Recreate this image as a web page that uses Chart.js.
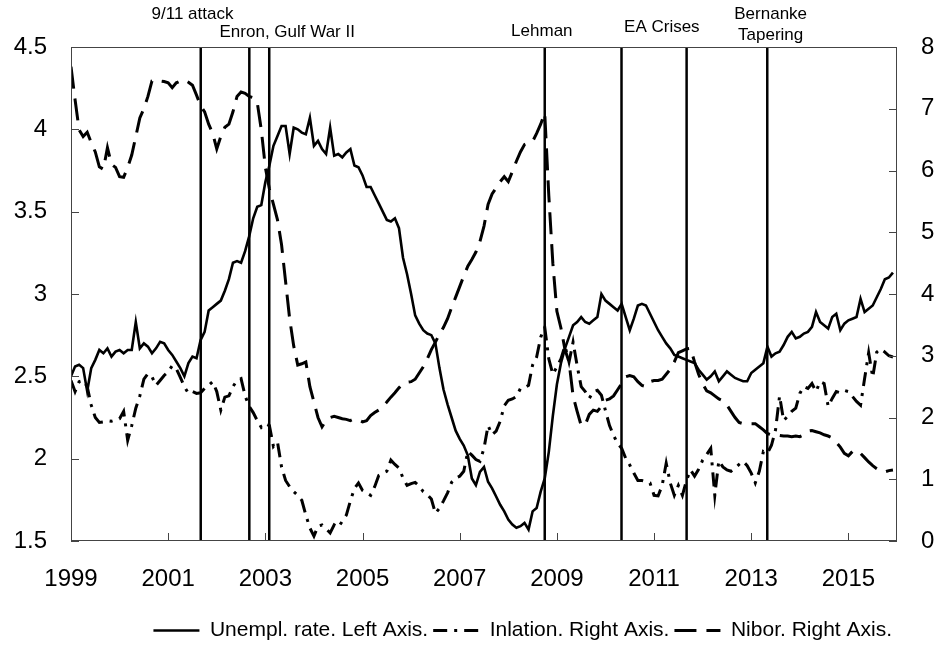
<!DOCTYPE html>
<html>
<head>
<meta charset="utf-8">
<script src="https://cdn.jsdelivr.net/npm/chart.js@4"></script>
<style>
  html, body { margin: 0; background: #fff; }
  #wrap { width: 941px; height: 651px; }
</style>
</head>
<body>
<div id="wrap"><canvas id="chart"></canvas></div>
<script>
// monthly series, Jan 1999 .. Dec 2015 (one row per year)
const startYear = 1999;
const xTickYears = [1999, 2001, 2003, 2005, 2007, 2009, 2011, 2013, 2015];

const unempRate = [
  2.50, 2.56, 2.57, 2.55, 2.41, 2.55, 2.60, 2.66, 2.64, 2.67, 2.62, 2.65,
  2.66, 2.64, 2.66, 2.66, 2.83, 2.67, 2.70, 2.68, 2.64, 2.67, 2.71, 2.70,
  2.66, 2.63, 2.59, 2.55, 2.50, 2.58, 2.62, 2.61, 2.72, 2.77, 2.90, 2.92,
  2.94, 2.96, 3.02, 3.09, 3.19, 3.20, 3.19, 3.26, 3.35, 3.46, 3.53, 3.54,
  3.68, 3.78, 3.90, 3.96, 4.02, 4.02, 3.85, 4.01, 4.00, 3.98, 3.97, 4.07,
  3.90, 3.93, 3.88, 3.85, 4.01, 3.84, 3.85, 3.83, 3.86, 3.88, 3.78, 3.77,
  3.72, 3.65, 3.65, 3.60, 3.55, 3.50, 3.45, 3.44, 3.46, 3.40, 3.22, 3.12,
  3.00, 2.87, 2.82, 2.78, 2.76, 2.75, 2.70, 2.55, 2.42, 2.33, 2.25, 2.17,
  2.12, 2.08, 2.02, 1.88, 1.84, 1.92, 1.95, 1.86, 1.82, 1.77, 1.72, 1.68,
  1.63, 1.60, 1.58, 1.59, 1.61, 1.57, 1.68, 1.70, 1.80, 1.88, 2.04, 2.26,
  2.45, 2.58, 2.67, 2.74, 2.81, 2.83, 2.86, 2.83, 2.82, 2.84, 2.86, 3.00,
  2.96, 2.94, 2.92, 2.90, 2.94, 2.86, 2.78, 2.85, 2.93, 2.94, 2.93, 2.88,
  2.83, 2.78, 2.74, 2.70, 2.67, 2.63, 2.62, 2.61, 2.60, 2.59, 2.58, 2.54,
  2.51, 2.48, 2.50, 2.53, 2.47, 2.50, 2.53, 2.51, 2.49, 2.48, 2.47, 2.47,
  2.52, 2.54, 2.56, 2.58, 2.68, 2.62, 2.64, 2.65, 2.69, 2.74, 2.77, 2.73,
  2.74, 2.76, 2.77, 2.80, 2.89, 2.83, 2.81, 2.79, 2.86, 2.88, 2.78, 2.82,
  2.84, 2.85, 2.86, 2.97, 2.89, 2.91, 2.93, 2.98, 3.03, 3.09, 3.10, 3.13
];

const inflation = [
  2.60, 2.42, 2.58, 2.60, 2.50, 2.20, 2.00, 1.92, 1.93, 1.95, 1.94, 1.96,
  1.98, 2.10, 1.63, 1.87, 2.15, 2.35, 2.62, 2.71, 2.66, 2.52, 2.60, 2.68,
  2.74, 2.84, 2.79, 2.65, 2.50, 2.39, 2.42, 2.39, 2.40, 2.47, 2.52, 2.58,
  2.42, 2.12, 2.33, 2.35, 2.50, 2.60, 2.63, 2.35, 2.18, 2.08, 1.95, 1.84,
  1.90, 1.87, 1.53, 1.60, 1.20, 0.98, 0.88, 0.80, 0.74, 0.66, 0.42, 0.21,
  0.08, 0.24, 0.26, 0.20, 0.13, 0.26, 0.22, 0.32, 0.42, 0.65, 0.85, 0.94,
  0.82, 0.78, 0.74, 0.88, 1.06, 1.10, 1.13, 1.31, 1.24, 1.18, 1.02, 0.90,
  0.93, 0.95, 0.89, 0.80, 0.75, 0.68, 0.45, 0.53, 0.65, 0.78, 0.95, 1.02,
  1.05, 1.13, 1.45, 1.39, 1.32, 1.29, 1.50, 1.87, 1.72, 1.78, 1.94, 2.19,
  2.28, 2.30, 2.34, 2.47, 2.48, 2.52, 2.85, 2.98, 3.30, 3.46, 2.95, 2.70,
  2.82, 2.95, 3.16, 2.90, 3.22, 2.84, 2.50, 2.42, 2.31, 2.42, 2.44, 2.36,
  2.11, 1.87, 1.71, 1.58, 1.50, 1.34, 1.23, 1.10, 0.98, 0.98, 0.96, 0.94,
  0.74, 0.73, 0.90, 1.26, 0.94, 0.74, 0.90, 0.74, 0.98, 1.15, 1.05, 1.16,
  1.31, 1.40, 1.50, 0.74, 1.30, 1.20, 1.15, 1.13, 1.18, 1.24, 1.29, 1.22,
  1.10, 0.94, 1.13, 1.45, 1.42, 1.55, 1.80, 2.35, 1.95, 2.02, 2.10, 2.15,
  2.39, 2.50, 2.47, 2.55, 2.42, 2.58, 2.55, 2.18, 2.31, 2.42, 2.40, 2.44,
  2.42, 2.34, 2.26, 2.20, 2.63, 3.05, 2.65, 3.06, 3.11, 3.06, 3.00, 2.98
];

const nibor = [
  7.68, 7.15, 6.66, 6.55, 6.62, 6.45, 6.30, 6.06, 6.02, 6.37, 6.10, 6.05,
  5.90, 5.89, 6.05, 6.25, 6.55, 6.85, 7.00, 7.20, 7.45, 7.47, 7.45, 7.44,
  7.42, 7.34, 7.42, 7.45, 7.47, 7.43, 7.38, 7.22, 7.05, 6.95, 6.75, 6.60,
  6.35, 6.55, 6.70, 6.75, 6.95, 7.20, 7.27, 7.25, 7.20, 7.18, 7.10, 6.66,
  6.05, 5.70, 5.45, 5.20, 4.80, 4.20, 3.60, 3.16, 2.85, 2.87, 2.90, 2.50,
  2.25, 2.00, 1.85, 1.95, 2.00, 2.02, 2.00, 1.98, 1.97, 1.95, 1.98, 1.96,
  1.93, 1.95, 2.03, 2.08, 2.12, 2.18, 2.25, 2.33, 2.40, 2.48, 2.55, 2.57,
  2.58, 2.62, 2.72, 2.82, 2.95, 3.10, 3.22, 3.35, 3.46, 3.60, 3.78, 3.95,
  4.12, 4.29, 4.45, 4.56, 4.68, 4.85, 5.10, 5.45, 5.62, 5.72, 5.82, 5.90,
  5.82, 5.98, 6.15, 6.30, 6.42, 6.45, 6.47, 6.60, 6.75, 6.93, 5.60, 4.50,
  3.72, 3.45, 3.10, 2.90, 2.35, 2.10, 1.87, 1.88, 2.05, 2.12, 2.10, 2.18,
  2.28, 2.30, 2.35, 2.45, 2.55, 2.66, 2.68, 2.66, 2.58, 2.52, 2.50, 2.58,
  2.60, 2.60, 2.62, 2.70, 2.78, 2.90, 3.05, 3.08, 3.11, 3.12, 2.90, 2.70,
  2.55, 2.43, 2.40, 2.35, 2.30, 2.27, 2.20, 2.10, 2.00, 1.92, 1.90, 1.90,
  1.90, 1.90, 1.85, 1.80, 1.74, 1.72, 1.71, 1.71, 1.70, 1.70, 1.69, 1.70,
  1.69, 1.72, 1.78, 1.79, 1.77, 1.75, 1.72, 1.70, 1.67, 1.60, 1.52, 1.42,
  1.38, 1.45, 1.47, 1.42, 1.35, 1.28, 1.22, 1.17, 1.13, 1.12, 1.14, 1.15
];

// events (decimal years) and their captions
const eventDates = [2001.67, 2002.67, 2003.08, 2008.75, 2010.33, 2011.67, 2013.33];
const eventLabels = ['9/11 attack', 'Enron, Gulf War II', 'Lehman', 'EA Crises', ['Bernanke', 'Tapering']];
const eventLabelDates = [2001.5, 2003.45, 2008.69, 2011.16, 2013.4];

const months = unempRate.map((_, i) => startYear + i / 12);

const FONT = '"Liberation Sans", Arial, Helvetica, sans-serif';
Chart.defaults.font.family = FONT;
Chart.defaults.color = '#000';

// height (px above the plot top) of each caption line
const labelRise = [33, 15, 16, 20, [33, 12]];

const frameAndEvents = {
  id: 'frameAndEvents',
  afterDatasetsDraw(chart) {
    const { ctx, chartArea: a, scales } = chart;
    ctx.save();

    // event lines
    ctx.strokeStyle = '#000';
    ctx.lineWidth = 2.5;
    eventDates.forEach(d => {
      const x = scales.x.getPixelForValue(d);
      ctx.beginPath();
      ctx.moveTo(x, a.top);
      ctx.lineTo(x, a.bottom);
      ctx.stroke();
    });

    // box round the plot
    ctx.strokeStyle = '#444';
    ctx.lineWidth = 1;
    ctx.strokeRect(a.left + 0.5, a.top + 0.5, a.right - a.left - 1, a.bottom - a.top - 1);

    // inward tick marks
    const tl = 8;
    ctx.beginPath();
    scales.y.ticks.forEach(t => {
      const y = Math.round(scales.y.getPixelForValue(t.value)) + 0.5;
      ctx.moveTo(a.left, y); ctx.lineTo(a.left + tl, y);
    });
    scales.y1.ticks.forEach(t => {
      const y = Math.round(scales.y1.getPixelForValue(t.value)) + 0.5;
      ctx.moveTo(a.right, y); ctx.lineTo(a.right - tl, y);
    });
    scales.x.ticks.forEach(t => {
      const x = Math.round(scales.x.getPixelForValue(t.value)) + 0.5;
      ctx.moveTo(x, a.bottom); ctx.lineTo(x, a.bottom - tl);
    });
    ctx.stroke();

    // captions
    ctx.fillStyle = '#000';
    ctx.font = '17px ' + FONT;
    ctx.textAlign = 'center';
    ctx.textBaseline = 'middle';
    eventLabels.forEach((t, i) => {
      const x = scales.x.getPixelForValue(eventLabelDates[i]);
      const lines = [].concat(t);
      const rises = [].concat(labelRise[i]);
      lines.forEach((s, j) => ctx.fillText(s, x, a.top - rises[j]));
    });
    ctx.restore();
  }
};

// legend markers keep the dataset dash pattern
const baseLabels = Chart.defaults.plugins.legend.labels.generateLabels;
const dashedLabels = chart => baseLabels(chart).map((item, i) => {
  const ds = chart.data.datasets[i];
  item.lineDash = ds.borderDash || [];
  item.lineWidth = ds.borderWidth;
  item.strokeStyle = ds.borderColor;
  return item;
});

const tickFont = { size: 24 };

new Chart(document.getElementById('chart'), {
  type: 'line',
  data: {
    labels: months,
    datasets: [
      {
        label: 'Unempl. rate. Left Axis.',
        data: unempRate,
        yAxisID: 'y',
        borderColor: '#000',
        backgroundColor: '#000',
        borderWidth: 2.6
      },
      {
        label: 'Inlation. Right Axis.',
        data: inflation,
        yAxisID: 'y1',
        borderColor: '#000',
        backgroundColor: '#000',
        borderWidth: 3,
        borderDash: [14, 7, 3, 7]
      },
      {
        label: 'Nibor. Right Axis.',
        data: nibor,
        yAxisID: 'y1',
        borderColor: '#000',
        backgroundColor: '#000',
        borderWidth: 3,
        borderDash: [22, 10]
      }
    ]
  },
  options: {
    responsive: true,
    maintainAspectRatio: false,
    animation: false,
    devicePixelRatio: 1,
    elements: { point: { radius: 0 }, line: { tension: 0 } },
    layout: { padding: { top: 47, left: 0, right: 0, bottom: 0 } },
    plugins: {
      tooltip: { enabled: false },
      legend: {
        position: 'bottom',
        align: 'end',
        fullSize: false,
        labels: {
          usePointStyle: true,
          pointStyle: 'line',
          pointStyleWidth: 46,
          padding: 5,
          color: '#000',
          font: { size: 21 },
          generateLabels: dashedLabels
        }
      }
    },
    scales: {
      x: {
        type: 'linear',
        min: 1999,
        max: 2016,
        afterBuildTicks: s => { s.ticks = xTickYears.map(v => ({ value: v })); },
        afterFit: s => { s.height = 74; },
        grid: { display: false, drawTicks: false },
        border: { display: false },
        ticks: { font: tickFont, padding: 24, maxRotation: 0, autoSkip: false, callback: v => String(v) }
      },
      y: {
        position: 'left',
        min: 1.5,
        max: 4.5,
        afterFit: s => { s.width = 71; },
        grid: { display: false, drawTicks: false },
        border: { display: false },
        ticks: { stepSize: 0.5, font: tickFont, padding: 24, callback: v => String(v) }
      },
      y1: {
        position: 'right',
        min: 0,
        max: 8,
        afterFit: s => { s.width = 44; },
        grid: { display: false, drawTicks: false },
        border: { display: false },
        ticks: { stepSize: 1, font: tickFont, padding: 24, callback: v => String(v) }
      }
    }
  },
  plugins: [frameAndEvents]
});
</script>
</body>
</html>
